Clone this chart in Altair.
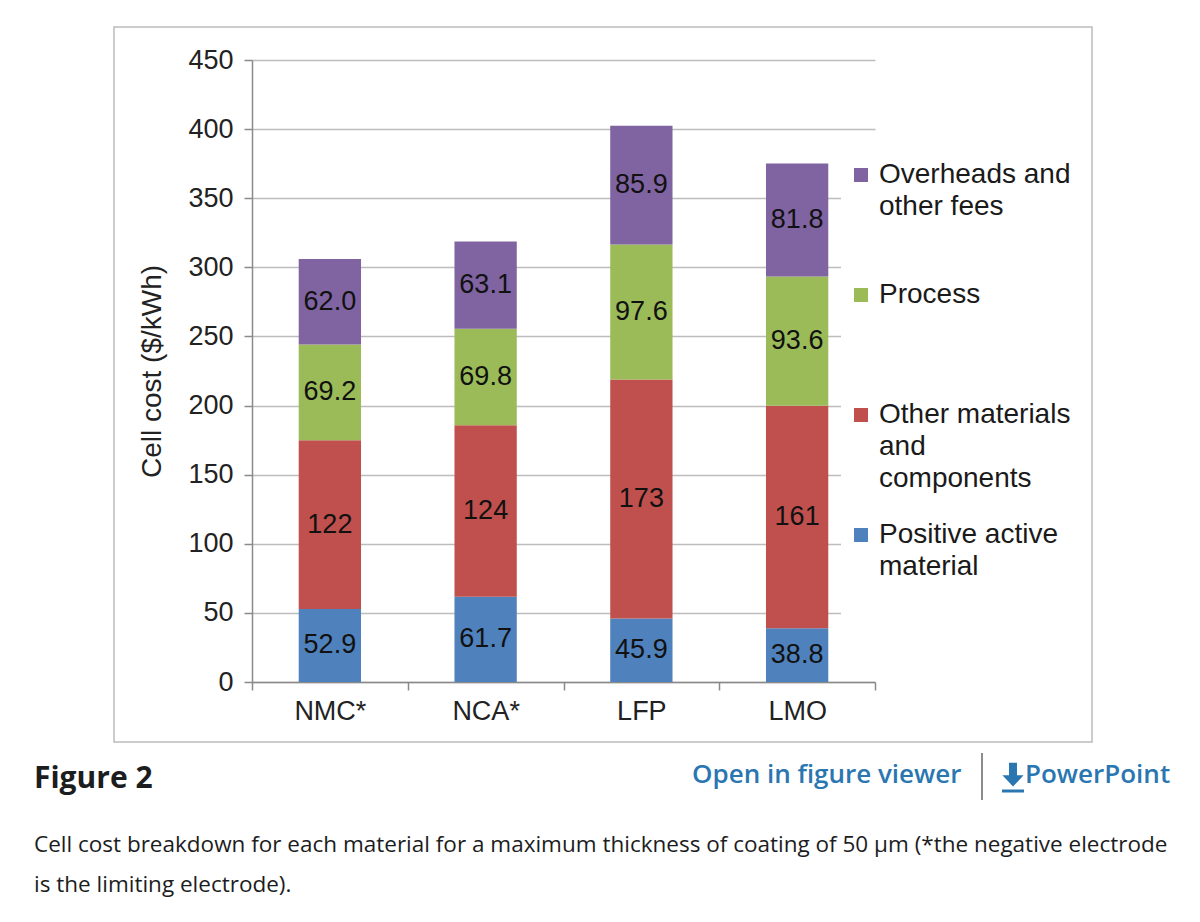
import altair as alt
import pandas as pd

# ---------------- data ----------------
materials = ["NMC*", "NCA*", "LFP", "LMO"]
components = ["Overheads and other fees", "Process",
              "Other materials and components", "Positive active material"]
positive_active = [52.9, 61.7, 45.9, 38.8]
other_materials = [122, 124, 173, 161]
process_cost = [69.2, 69.8, 97.6, 93.6]
overheads = [62.0, 63.1, 85.9, 81.8]
colors = ["#8064A2", "#9BBB59", "#C0504D", "#4F81BD"]
y_ticks = [0, 50, 100, 150, 200, 250, 300, 350, 400, 450]

series = {
    "Positive active material": positive_active,
    "Other materials and components": other_materials,
    "Process": process_cost,
    "Overheads and other fees": overheads,
}
stack_order = ["Positive active material", "Other materials and components",
               "Process", "Overheads and other fees"]
rows = []
for i, m in enumerate(materials):
    for k, comp in enumerate(stack_order):
        rows.append({"material": m, "component": comp, "order": k,
                     "value": series[comp][i]})
df = pd.DataFrame(rows)

AX_FONT = "Liberation Sans"
CAP_FONT = "Open Sans"
LINK = "#2a76b1"

W, H = 623, 622

base = alt.Chart(df).transform_stack(
    stack="value", groupby=["material"], as_=["y0", "y1"],
    sort=[alt.SortField("order", order="ascending")]
).transform_calculate(ymid="(datum.y0 + datum.y1) / 2")

x_enc = alt.X(
    "material:N", sort=materials,
    scale=alt.Scale(paddingInner=0, paddingOuter=0),
    axis=alt.Axis(title=None, tickBand="extent", grid=False, labelAngle=0,
                  labelFontSize=27, labelPadding=8, tickSize=8,
                  domainColor="#8a8a8a", tickColor="#8a8a8a",
                  domainWidth=1.5, tickWidth=1.5),
)
y_scale = alt.Scale(domain=[0, 450], nice=False)

label_expr = (
    "datum.label == 'Process' ? ['Process', '', ''] : "
    "datum.label == 'Overheads and other fees' ? ['Overheads and', 'other fees', ''] : "
    "datum.label == 'Other materials and components' ? ['Other materials', 'and', 'components'] : "
    "['Positive active', 'material', '']"
)

bars = base.mark_bar(width=alt.RelativeBandSize(0.4)).encode(
    x=x_enc,
    y=alt.Y("y1:Q", scale=y_scale,
            axis=alt.Axis(values=y_ticks, title="Cell cost ($/kWh)",
                          grid=True, gridColor="#bdbdbd", gridWidth=1.3,
                          domainColor="#8a8a8a", tickColor="#8a8a8a",
                          domainWidth=1.5, tickWidth=1.5,
                          tickSize=8, labelFontSize=27, labelPadding=11,
                          titleFontSize=28, titleFontWeight="normal",
                          titleX=-86, titleY=311)),
    y2="y0:Q",
    color=alt.Color(
        "component:N",
        scale=alt.Scale(domain=components, range=colors),
        legend=alt.Legend(
            title=None, orient="none", legendX=589, legendY=95,
            direction="vertical", symbolType="square", symbolSize=196,
            symbolStrokeWidth=0, symbolOpacity=1,
            labelFont=AX_FONT, labelFontSize=28, labelColor="#1a1a1a",
            labelLimit=400, labelOffset=4, rowPadding=28, padding=6,
            fillColor="white", labelBaseline="middle", labelExpr=label_expr,
        ),
    ),
)

labels = base.mark_text(font=AX_FONT, fontSize=27, color="#111111").encode(
    x=alt.X("material:N", sort=materials),
    y=alt.Y("ymid:Q", scale=y_scale),
    text=alt.Text("value:Q", format=".3r"),
)


def one():
    return alt.Chart(alt.Data(values=[{"k": 1}]))


def note(text, x, y, size, color, weight="normal", font=CAP_FONT):
    return one().mark_text(align="left", baseline="alphabetic", font=font,
                           fontSize=size, fontWeight=weight, color=color).encode(
        x=alt.value(x), y=alt.value(y), text=alt.value(text))


box = one().mark_rect(filled=False, stroke="#bcbcbc", strokeWidth=1.5).encode(
    x=alt.value(-138), x2=alt.value(840), y=alt.value(-33), y2=alt.value(682))

fig_title = note("Figure 2", -218, 728, 30, "#1c1d1e", weight="bold")
open_viewer = note("Open in figure viewer", 440, 723, 26, LINK, weight=600)
power_point = note("PowerPoint", 773, 723, 26, LINK, weight=600)
cap1 = note("Cell cost breakdown for each material for a maximum thickness of coating of 50 \u03bcm (*the negative electrode",
            -218, 792, 22.5, "#1c1d1e")
cap2 = note("is the limiting electrode).", -218, 832, 22.5, "#1c1d1e")

separator = one().mark_rule(color="#666666", strokeWidth=1.5).encode(
    x=alt.value(730), y=alt.value(693), y2=alt.value(740))
arrow = one().mark_point(
    shape="M-0.3,-1 L0.3,-1 L0.3,-0.05 L0.8,-0.05 L0,0.8 L-0.8,-0.05 L-0.3,-0.05 Z",
    filled=True, size=700, color=LINK, opacity=1).encode(
    x=alt.value(761), y=alt.value(716))
underline = one().mark_rule(color=LINK, strokeWidth=3).encode(
    x=alt.value(750), x2=alt.value(772), y=alt.value(731))

chart = alt.layer(
    box, bars, labels, fig_title, open_viewer, power_point, cap1, cap2,
    separator, arrow, underline
).properties(
    width=W, height=H,
    autosize=alt.AutoSizeParams(type="none"),
    padding={"left": 252, "top": 60, "right": 325, "bottom": 240},
    background="white",
).configure(
    style={"guide-label": {"lineHeight": 32}}
).configure_view(stroke=None).configure_axis(
    labelFont=AX_FONT, titleFont=AX_FONT, labelColor="#222222",
    titleColor="#222222",
)

chart.save("out.html", embed_options={"renderer": "svg", "actions": False})
